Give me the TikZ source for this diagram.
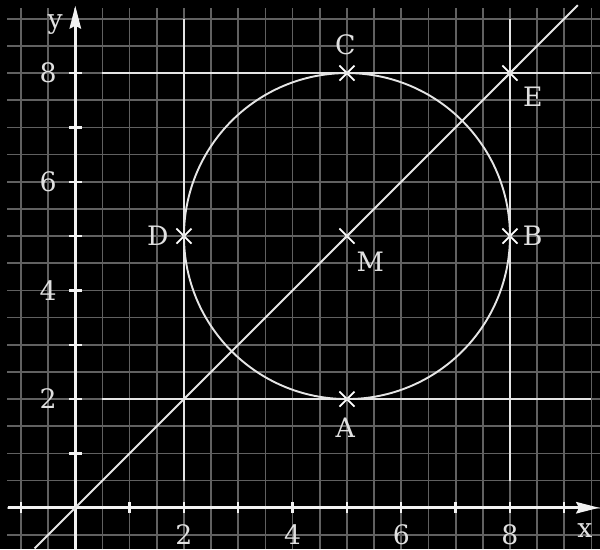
\documentclass[tikz,border=0pt]{standalone}
\usepackage{fontspec}
\setmainfont{DejaVu Serif}
\usetikzlibrary{arrows.meta, positioning, shapes.misc}

\begin{document}
\begin{tikzpicture}[
  every node/.style={font=\fontsize{14}{16}\selectfont, text=white!88!black},
  gridline/.style={draw=white!38!black, line width=0.9pt},
  axis/.style={draw=white!95!black, line width=1.4pt,
               -{Stealth[length=12pt, width=6pt, inset=1.5pt]}},
  tick/.style={draw=white!95!black, line width=1.2pt},
  geo/.style={draw=white!90!black, line width=1pt},
  pt/.style={cross out, draw=white, line width=0.9pt,
             minimum size=7pt, inner sep=0pt},
  lbl/.style={inner sep=1pt},
]

% ── Fond et cadre ────────────────────────────────────────────────────
\fill[black] (-1.386,-0.76) rectangle (9.657,9.345);
\useasboundingbox (-1.386,-0.76) rectangle (9.657,9.345);

% ── Quadrillage ──────────────────────────────────────────────────────
\draw[gridline, step=0.5] (-1.25,-0.76) grid (9.66,9.2);

% ── Axes ─────────────────────────────────────────────────────────────
\coordinate (xs) at (-1.24,0);
\coordinate (xe) at (9.64,0);
\coordinate (ys) at (0,-0.76);
\coordinate (ye) at (0,9.24);
\draw[axis] (xs) -- (xe);
\draw[axis] (ys) -- (ye);
\node[lbl] (xlab) at (9.38,-0.42) {x};
\node[lbl] (ylab) at (-0.37,8.9) {y};

\foreach \i in {-1,1,2,...,9}
  \draw[tick] (\i,-0.1) -- (\i,0.1);
\foreach \j in {1,...,8}
  \draw[tick] (-0.12,\j) -- (0.12,\j);
\foreach \i in {2,4,6,8} {
  \node[lbl] (xt\i) at (\i,-0.5) {\i};
  \node[lbl] (yt\i) at (-0.5,\i) {\i};
}

% ── Points ───────────────────────────────────────────────────────────
\node[pt] (A) at (5,2) {};
\node[pt] (B) at (8,5) {};
\node[pt] (C) at (5,8) {};
\node[pt] (D) at (2,5) {};
\node[pt] (E) at (8,8) {};
\node[pt] (M) at (5,5) {};

% ── Droites et cercle ────────────────────────────────────────────────
\coordinate (h8a) at (0.5,8);   \coordinate (h8b) at (9.5,8);
\coordinate (h2a) at (0.5,2);   \coordinate (h2b) at (9.5,2);
\coordinate (v2a) at (2,0.5);   \coordinate (v2b) at (2,9);
\coordinate (v8a) at (8,0.5);   \coordinate (v8b) at (8,9);
\coordinate (da)  at (-0.75,-0.75);
\coordinate (db)  at (9.25,9.25);

\draw[geo] (h8a) -- (C.center) -- (E.center) -- (h8b);
\draw[geo] (h2a) -- (A.center) -- (h2b);
\draw[geo] (v2a) -- (D.center) -- (v2b);
\draw[geo] (v8a) -- (B.center) -- (E.center) -- (v8b);
\draw[geo] (da) -- (M.center) -- (E.center) -- (db);
\draw[geo] (M.center) circle[radius=3];

% ── Étiquettes ───────────────────────────────────────────────────────
\node[lbl] (labA) at (4.97,1.48) {A};
\node[lbl] (labB) at (8.42,5.0)  {B};
\node[lbl] (labC) at (4.97,8.52) {C};
\node[lbl] (labD) at (1.52,5.0)  {D};
\node[lbl] (labE) at (8.42,7.56) {E};
\node[lbl] (labM) at (5.43,4.52) {M};

\end{tikzpicture}
\end{document}
